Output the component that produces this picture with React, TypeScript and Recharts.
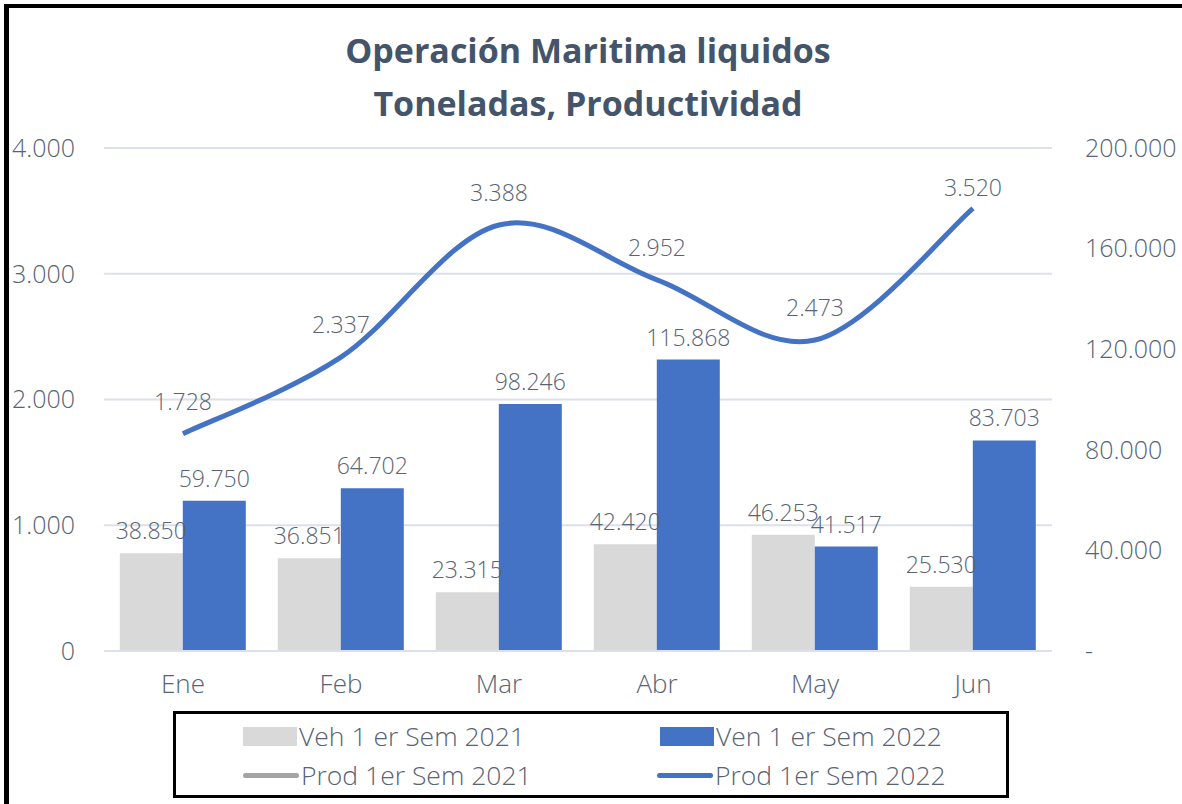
import React from "react"
import {
  ComposedChart, Bar, Line, XAxis, YAxis, CartesianGrid, LabelList,
} from "recharts"

const months = ["Ene", "Feb", "Mar", "Abr", "May", "Jun"]
const veh2021 = [38850, 36851, 23315, 42420, 46253, 25530]
const ven2022 = [59750, 64702, 98246, 115868, 41517, 83703]
const prod2022 = [1728, 2337, 3388, 2952, 2473, 3520]
const leftTicks = [0, 1000, 2000, 3000, 4000]
const rightTicks = [0, 40000, 80000, 120000, 160000, 200000]

const TEXT = "#586374"
const FONT = "'Open Sans', 'Noto Sans', sans-serif"

const fmt = (n: number) => String(Math.round(n)).replace(/\B(?=(\d{3})+(?!\d))/g, ".")

const data = months.map((m, i) => ({
  month: m, veh2021: veh2021[i], ven2022: ven2022[i], prod2022: prod2022[i],
}))

// Excel-like smoothed line (cardinal bezier, tension 1/6)
const excelCurve = (context: any) => {
  let pts: [number, number][] = []
  return {
    areaStart() {}, areaEnd() {},
    lineStart() { pts = [] },
    point(x: number, y: number) { pts.push([+x, +y]) },
    lineEnd() {
      if (!pts.length) return
      context.moveTo(pts[0][0], pts[0][1])
      for (let i = 0; i < pts.length - 1; i++) {
        const p0 = pts[i - 1] || pts[i]
        const p1 = pts[i]
        const p2 = pts[i + 1]
        const p3 = pts[i + 2] || p2
        context.bezierCurveTo(
          p1[0] + (p2[0] - p0[0]) / 6, p1[1] + (p2[1] - p0[1]) / 6,
          p2[0] - (p3[0] - p1[0]) / 6, p2[1] - (p3[1] - p1[1]) / 6,
          p2[0], p2[1],
        )
      }
    },
  }
}

const ProdLabel = (props: any) => {
  const { x, y, value, index } = props
  const off = index === months.length - 1 ? 12 : 24
  return (
    <text x={x} y={y - off} textAnchor="middle" fill={TEXT} fontSize={23} fontFamily={FONT} fontWeight={300}>
      {fmt(value)}
    </text>
  )
}

const labelStyle = { fill: TEXT, fontSize: 23, fontFamily: FONT, fontWeight: 300 }
const tickStyle = { fill: TEXT, fontSize: 25, fontFamily: FONT, fontWeight: 300 }

const legendItems = [
  { label: "Veh 1 er Sem 2021", color: "#D9D9D9", kind: "box", left: 243, top: 726 },
  { label: "Ven 1 er Sem 2022", color: "#4472C4", kind: "box", left: 660, top: 726 },
  { label: "Prod 1er Sem 2021", color: "#A5A5A5", kind: "line", left: 243, top: 765 },
  { label: "Prod 1er Sem 2022", color: "#4472C4", kind: "line", left: 657, top: 765 },
]

export default function App() {
  return (
    <div style={{ position: "absolute", left: 0, top: 0, width: 1182, height: 804, background: "#fff", overflow: "hidden" }}>
      {/* frame */}
      <div style={{ position: "absolute", left: 4, top: 4, width: 1178, height: 800,
                    borderLeft: "5px solid #000", borderTop: "4px solid #000", boxSizing: "border-box" }} />

      {/* title */}
      <div style={{ position: "absolute", left: 0, top: 24, width: 1176, textAlign: "center",
                    fontFamily: FONT, fontWeight: 700, fontSize: 34, lineHeight: "53px", color: "#44546A" }}>
        Operación Maritima liquidos<br />Toneladas, Productividad
      </div>

      <div style={{ position: "absolute", left: 0, top: 0 }}>
        <ComposedChart width={1182} height={700} data={data}
                       margin={{ top: 148, right: 0, left: 0, bottom: 19 }}
                       barCategoryGap="10%" barGap={0}>
          <CartesianGrid yAxisId="left" vertical={false} stroke="#DCE0EA" strokeWidth={2} />
          <XAxis dataKey="month" tick={{ ...tickStyle, fontSize: 26 }} tickLine={false} tickSize={0} tickMargin={24}
                 height={30} axisLine={{ stroke: "#DCE0EA", strokeWidth: 2 }} />
          <YAxis yAxisId="left" orientation="left" width={104} domain={[0, 4000]} ticks={leftTicks}
                 tick={tickStyle} tickFormatter={fmt} axisLine={false} tickLine={false}
                 tickSize={0} tickMargin={29} />
          <YAxis yAxisId="right" orientation="right" width={130} domain={[0, 200000]} ticks={rightTicks}
                 tick={{ ...tickStyle, textAnchor: "start" }} tickFormatter={(v: number) => (v === 0 ? "-" : fmt(v))}
                 axisLine={false} tickLine={false} tickSize={0} tickMargin={33} />
          <Bar yAxisId="right" dataKey="veh2021" fill="#D9D9D9" isAnimationActive={false}>
            <LabelList dataKey="veh2021" position="top" offset={14} formatter={(v: any) => fmt(v)} style={labelStyle} />
          </Bar>
          <Bar yAxisId="right" dataKey="ven2022" fill="#4472C4" isAnimationActive={false}>
            <LabelList dataKey="ven2022" position="top" offset={14} formatter={(v: any) => fmt(v)} style={labelStyle} />
          </Bar>
          <Line yAxisId="left" dataKey="prod2022" type={excelCurve as any} stroke="#4472C4" strokeWidth={5}
                dot={false} isAnimationActive={false}>
            <LabelList dataKey="prod2022" content={<ProdLabel />} />
          </Line>
        </ComposedChart>
      </div>

      {/* legend */}
      <div style={{ position: "absolute", left: 173, top: 711, width: 836, height: 87,
                    border: "3px solid #000", boxSizing: "border-box" }} />
      {legendItems.map(it => (
        <div key={it.label} style={{ position: "absolute", left: it.left, top: it.top, height: 20,
                                     display: "flex", alignItems: "center" }}>
          {it.kind === "box"
            ? <div style={{ width: 54, height: 19, background: it.color }} />
            : <div style={{ width: 56, height: 5, borderRadius: 3, background: it.color }} />}
          <span style={{ marginLeft: 2, fontFamily: FONT, fontWeight: 300, fontSize: 26.5, color: TEXT,
                         lineHeight: "20px", whiteSpace: "nowrap" }}>{it.label}</span>
        </div>
      ))}
    </div>
  )
}
